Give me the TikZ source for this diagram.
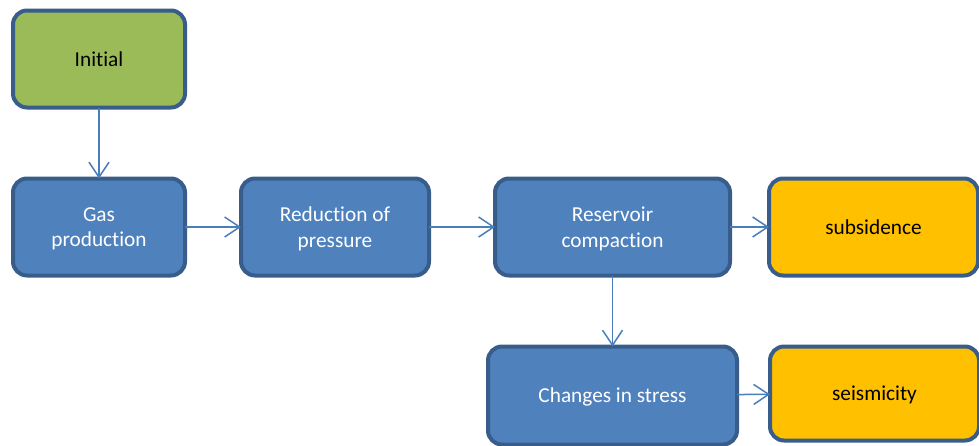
\documentclass[tikz,border=0pt]{standalone}
\usepackage{fontspec}
\setmainfont{Carlito}[Ligatures=NoCommon]
\usetikzlibrary{arrows.meta,positioning}
\definecolor{boxblue}{HTML}{4F81BD}
\definecolor{boxline}{HTML}{385D8A}
\definecolor{boxgreen}{HTML}{9BBB59}
\definecolor{boxorange}{HTML}{FFC000}
\definecolor{arrowblue}{HTML}{4A7EBB}

\begin{document}
\begin{tikzpicture}[x=1pt,y=-1pt,>={Straight Barb[length=15pt,width=20pt]},
                    main node/.style={rectangle,rounded corners=14pt,draw=boxline,line width=4pt,
                      fill=boxblue,text=white,align=center,inner sep=0pt,outer sep=0pt,
                      text depth=0pt,minimum height=97pt,font=\fontsize{21.3}{25.5}\selectfont},
                    start node/.style={main node,fill=boxgreen,text=black},
                    end node/.style={main node,fill=boxorange,text=black}]
  \useasboundingbox (0,0) rectangle (979,445);
  \node[start node,minimum width=172pt] (init) at (99,59) {Initial};
  \node[main node,minimum width=172pt] (gas) [below=71pt of init] {Gas\\production};
  \node[main node,minimum width=188pt] (red) [right=56pt of gas] {Reduction of\\pressure};
  \node[main node,minimum width=235pt] (res) [right=66pt of red] {Reservoir\\compaction};
  \node[end node,minimum width=209pt] (sub) [right=39pt of res] {subsidence};
  \node[main node,minimum width=249pt,minimum height=98pt] (chg) [below=71pt of res] {Changes in stress};
  \node[end node,minimum width=209pt,minimum height=94pt,yshift=2pt] (seis) [right=33pt of chg] {seismicity};
  \path[->,draw=arrowblue,line width=1.5pt]
    (init) edge (gas)
    (gas) edge (red)
    (red) edge (res)
    (res) edge (sub)
          edge (chg)
    (chg) edge (seis);
\end{tikzpicture}
\end{document}
